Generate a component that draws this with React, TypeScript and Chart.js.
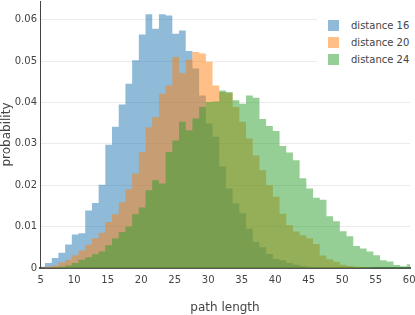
import React, { useEffect, useRef } from "react";
import { Chart, registerables } from "chart.js";

Chart.register(...registerables);

// Bin centres of the histogram (bin width 1)
const binStart = 5.15;
const seriesNames = ["distance 16", "distance 20", "distance 24"];

// Probability per bin
const dist16 = [
  0.0003, 0.0012, 0.0024, 0.0037, 0.0057, 0.0081, 0.0084, 0.0139, 0.0157, 0.0201,
  0.0298, 0.0341, 0.0395, 0.0445, 0.0502, 0.0564, 0.0613, 0.0578, 0.0613, 0.061,
  0.0566, 0.0574, 0.0524, 0.0482, 0.0417, 0.0349, 0.0317, 0.0245, 0.0192, 0.0156,
  0.0132, 0.0095, 0.0063, 0.005, 0.0034, 0.0022, 0.0019, 0.0012, 0.0008, 0.0005,
  0.0003, 0.0002, 0.0001, 0.0001, 0, 0, 0, 0, 0, 0,
  0, 0, 0, 0, 0, 0,
];
const dist20 = [
  0.0001, 0.0003, 0.0006, 0.0013, 0.002, 0.0031, 0.0042, 0.0056, 0.0072, 0.0085,
  0.0111, 0.013, 0.0159, 0.019, 0.0228, 0.028, 0.034, 0.0365, 0.0421, 0.0441,
  0.051, 0.0471, 0.0503, 0.0522, 0.0518, 0.0498, 0.0441, 0.0425, 0.0422, 0.0389,
  0.0353, 0.0313, 0.0272, 0.0236, 0.02, 0.0172, 0.0131, 0.0103, 0.0088, 0.0079,
  0.0072, 0.0058, 0.003, 0.0021, 0.0015, 0.0008, 0.0005, 0.0003, 0.0002, 0.0001,
  0, 0, 0, 0, 0, 0,
];
const dist24 = [
  0, 0, 0.0001, 0.0003, 0.0006, 0.0012, 0.002, 0.0026, 0.0033, 0.004,
  0.0055, 0.0071, 0.0087, 0.01, 0.013, 0.0146, 0.0188, 0.0212, 0.0204, 0.028,
  0.0308, 0.0353, 0.0333, 0.0361, 0.0389, 0.0401, 0.0402, 0.0429, 0.0425, 0.0405,
  0.0397, 0.0417, 0.0411, 0.036, 0.0343, 0.0331, 0.0295, 0.0279, 0.026, 0.0217,
  0.0192, 0.017, 0.0165, 0.0125, 0.0113, 0.0089, 0.0077, 0.0053, 0.0047, 0.004,
  0.0031, 0.0019, 0.0016, 0.0007, 0.0004, 0.0009,
];

const xTickValues = [5, 10, 15, 20, 25, 30, 35, 40, 45, 50, 55, 60];
const yTickValues = [0, 0.01, 0.02, 0.03, 0.04, 0.05, 0.06];

const seriesColors = [
  "rgba(31,119,180,0.5)",
  "rgba(255,127,14,0.5)",
  "rgba(44,160,44,0.5)",
];

const FONT = "'DejaVu Sans', sans-serif";

export default function App() {
  const canvasRef = useRef<HTMLCanvasElement | null>(null);

  useEffect(() => {
    const canvas = canvasRef.current;
    if (!canvas) return;
    const series = [dist16, dist20, dist24];
    const binCenters = dist16.map((_, i) => binStart + i);
    const datasets = series.map((s, i) => ({
      label: seriesNames[i],
      data: binCenters.map((x, j) => ({ x, y: s[j] })),
      stepped: "middle" as const,
      fill: "origin",
      backgroundColor: seriesColors[i],
      borderColor: "transparent",
      borderWidth: 0,
      pointRadius: 0,
      pointHoverRadius: 0,
      tension: 0,
      order: 3 - i,
    }));

    const chart = new Chart(canvas, {
      type: "line",
      data: { datasets },
      options: {
        animation: false,
        responsive: false,
        events: [],
        layout: { padding: { top: 1, right: 5, left: 0, bottom: 0 } },
        plugins: {
          legend: { display: false },
          tooltip: { enabled: false },
        },
        scales: {
          x: {
            type: "linear",
            min: 4.9,
            max: 60.12,
            afterFit: (scale: any) => {
              scale.height = 47;
              scale.paddingLeft = 0;
              scale.paddingRight = 0;
            },
            afterBuildTicks: (scale: any) => {
              scale.ticks = xTickValues.map((v) => ({ value: v }));
            },
            grid: { display: false, drawTicks: false },
            border: { display: true, color: "#555", width: 2 },
            ticks: {
              autoSkip: false,
              maxRotation: 0,
              padding: 6,
              color: "#444",
              font: { family: FONT, size: 10 },
              callback: (v: any) => String(v),
            },
            title: {
              display: true,
              text: "path length",
              color: "#444",
              font: { family: FONT, size: 12 },
              padding: { top: 0, bottom: 0 },
            },
          },
          y: {
            type: "linear",
            min: 0,
            max: 0.0645,
            afterFit: (scale: any) => {
              scale.width = 40;
              scale.paddingTop = 0;
              scale.paddingBottom = 0;
            },
            afterBuildTicks: (scale: any) => {
              scale.ticks = yTickValues.map((v) => ({ value: v }));
            },
            grid: { color: "#ebebeb", lineWidth: 1, drawTicks: false },
            border: { display: true, color: "#444", width: 1 },
            ticks: {
              padding: 3,
              color: "#444",
              font: { family: FONT, size: 10 },
              callback: (v: any) => (Number(v) === 0 ? "0" : Number(v).toFixed(2)),
            },
            title: {
              display: true,
              text: "probability",
              color: "#444",
              font: { family: FONT, size: 12 },
              padding: { top: 0, bottom: 0 },
            },
          },
        },
      },
    } as any);
    return () => chart.destroy();
  }, []);

  const legendRowCenters = [25.7, 42.4, 59.1];

  return (
    <div
      style={{
        position: "fixed",
        left: 0,
        top: 0,
        width: 415,
        height: 315,
        background: "#fff",
        overflow: "hidden",
      }}
    >
      <canvas ref={canvasRef} width={415} height={315} style={{ width: 415, height: 315, display: "block" }} />
      <div
        style={{
          position: "absolute",
          left: 317,
          top: 10,
          width: 98,
          height: 64,
          background: "#fff",
        }}
      />
      {seriesNames.map((name, i) => (
        <div
          key={name}
          style={{
            position: "absolute",
            left: 328,
            top: legendRowCenters[i] - 8,
            height: 16,
            display: "flex",
            alignItems: "center",
            fontFamily: FONT,
            fontSize: 10,
            color: "#444",
            whiteSpace: "nowrap",
          }}
        >
          <span
            style={{
              display: "inline-block",
              width: 11,
              height: 11,
              background: seriesColors[i],
              marginRight: 12,
            }}
          />
          <span>{name}</span>
        </div>
      ))}
    </div>
  );
}
